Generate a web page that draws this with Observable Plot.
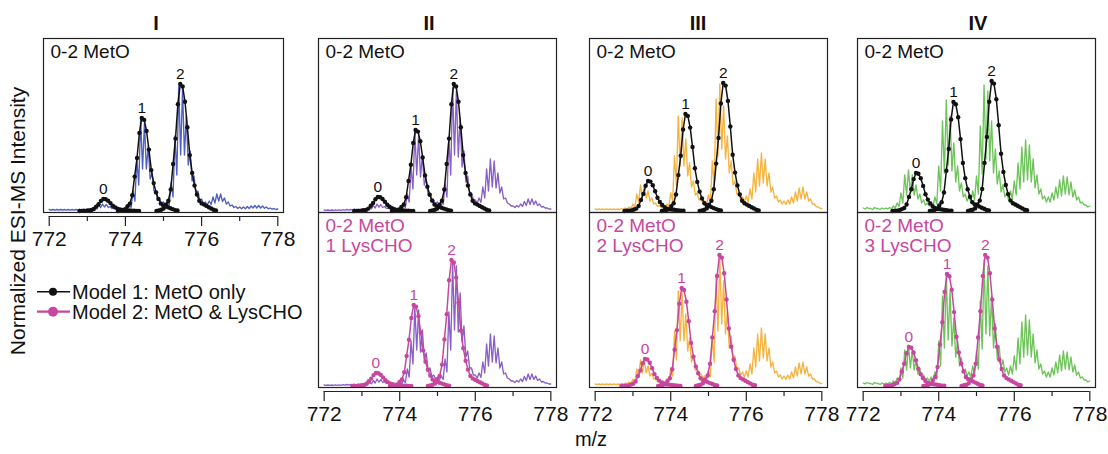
<!DOCTYPE html>
<html><head><meta charset="utf-8">
<script src="https://cdn.jsdelivr.net/npm/d3@7"></script>
<script src="https://cdn.jsdelivr.net/npm/@observablehq/plot@0.6"></script>
<style>
body{margin:0;background:#fff;font-family:"Liberation Sans",Arial,Helvetica,sans-serif;}
#fig{position:relative;width:1108px;height:454px;overflow:hidden;background:#fff;}
.t{position:absolute;white-space:nowrap;color:#111;}
</style></head><body><div id="fig"></div>
<script>
// ---------- text ----------
const panelTitles = ["I", "II", "III", "IV"];
const peakLabels = ["0", "1", "2"];
const topLabel = "0-2 MetO";
const bottomLabels = ["0-2 MetO\n1 LysCHO", "0-2 MetO\n2 LysCHO", "0-2 MetO\n3 LysCHO"];
const legendLabels = ["Model 1: MetO only", "Model 2: MetO & LysCHO"];
const yTitle = "Normalized ESI-MS Intensity";
const xTitle = "m/z";
const mzMajor = [772, 774, 776, 778];
const mzMinor = [773, 775, 777];
const tickLabels = ["772", "774", "776", "778"];

// ---------- experimental spectra: isotope-peak tops (hi) at 772.0 + 0.1 i and valleys (lo) halfway ----------
const specStart = 772.0, specStep = 0.1;
const specI_hi = [1.5,1.5,1.5,1.5,1.5,1.5,1.5,1.5,1.5,2, 2,2.5,3,6,7,6.5,4.5,3,2.5,2.5, 3,6,20,52,92,88,65,38,20,12, 9,10,28,75,125,122,95,60,35,20, 12,9,10,14,17,17,13,9,6,4.5, 4,4,4.5,5,5.5,5.5,5,4,3,2.5, 2];
const specI_lo = [0.8,0.8,0.8,0.8,0.8,0.8,0.8,0.8,1,1.2, 1.3,1.6,2,3.5,4,3.5,2.5,1.8,1.5,1.5, 2,3.5,10,26,42,42,32,20,11,7, 6,6,14,36,56,56,46,30,18,11, 7,6,6.5,8,10,9.5,7,5,3.5,2.5, 2.2,2.2,2.5,3,3,3,2.7,2.2,1.8,1.5];
const specII_hi = [1,1,1,1.2,1.2,1.3,1.5,1.5,1.8,2, 2,2.5,3.5,5.5,7,6.5,4.5,3,2.5,2.5, 3,6,17,45,79,76,56,33,18,11, 9,10,27,74,123,120,93,60,35,18, 11,13,24,42,52,50,38,24,13,7, 5,5.5,7,9.5,12,12,10,7,4.5,3, 2];
const specII_lo = [0.6,0.6,0.6,0.7,0.7,0.8,0.9,0.9,1,1.2, 1.3,1.6,2.2,3,3.8,3.5,2.6,1.9,1.6,1.6, 2,3.5,9,22,36,34,26,16,9,7, 6,6.5,14,36,56,54,44,29,18,11, 8,8.5,13,20,24,23,18,12,8,5, 3.5,4,4.5,5.5,6.5,6.5,5.5,4,3,2];
const specIII_hi = [2,2,2,2,2,2,2,2.5,3,4, 7,17,26,26,20,13,8,5.5,5,7, 18,55,95,93,72,48,30,18,12,10, 16,50,112,127,105,75,50,30,18,14, 15,22,38,52,58,52,38,24,15,11, 10,11,14,19,23,24,19,12,7,4, 2.5];
const specIII_lo = [1.3,1.3,1.3,1.3,1.3,1.3,1.4,1.6,2,2.6, 4,9,13,13,10,7,4.5,3.5,3.5,4.5, 10,26,45,45,35,24,16,11,8,7, 9,24,55,62,52,38,26,17,11,9, 9,12,19,25,28,25,19,13,9,7, 6.5,7,8,10,12,12,10,7,4.5,2.7];
const specIV_hi = [3,3.5,2.5,3.5,2.5,3,3,3.5,5,8, 18,36,41,36,26,17,11,8,9,14, 45,90,111,95,68,45,28,17,14,20, 35,85,126,120,90,62,40,26,18,20, 30,48,64,71,66,52,36,22,15,14, 18,24,31,35,34,29,21,14,9,6, 5];
const specIV_lo = [2,2.5,1.5,2.5,1.5,2,2,2.2,3,4.5, 8,16,18,16,12,8,6,5,5,7, 20,38,46,40,29,20,14,10,9,11, 17,37,52,50,38,27,19,14,11,12, 16,22,29,31,29,23,17,12,9,9, 11,13,15,17,16,14,11,8,6,4];

// ---------- model fits: points every 0.0625 m/z, starting 10 steps before each peak centre ----------
const modelStep = 0.0625, modelOffset = -10;
const centersI = [773.42, 774.43, 775.44];
const modelI = [
  [0,0.1,0.1,0.2,0.6,1,2,4.4,6.8,10.1,12,11.8,10.3,7.9,5.3,3.6,2.4,1.6,1,0.7,0.6,0.5,0.4,0.2,0.1,0.1],
  [0,0.5,0.9,1.9,4.7,7.4,15.8,34.4,53,78.1,93,91.1,80,61.4,40.9,27.9,18.6,12.1,7.4,5.6,4.7,3.7,2.8,1.9,0.9,0.5],
  [0,0.6,1.3,2.5,6.4,10.2,21.6,47,72.4,106.7,127,124.5,109.2,83.8,55.9,38.1,25.4,16.5,10.2,7.6,6.4,5.1,3.8,2.5,1.3,0.6]];
const centersII_top = [773.42, 774.42, 775.43];
const modelII_top = [
  [0,0.1,0.1,0.3,0.7,1.1,2.4,5.2,8,11.8,14,13.7,12,9.2,6.2,4.2,2.8,1.8,1.1,0.8,0.7,0.6,0.4,0.3,0.1,0.1],
  [0,0.4,0.8,1.6,4.1,6.5,13.8,30,46.2,68,81,79.4,69.7,53.5,35.6,24.3,16.2,10.5,6.5,4.9,4.1,3.2,2.4,1.6,0.8,0.4],
  [0,0.6,1.3,2.5,6.4,10.2,21.6,47,72.4,106.7,127,124.5,109.2,83.8,55.9,38.1,25.4,16.5,10.2,7.6,6.4,5.1,3.8,2.5,1.3,0.6]];
const centersII_bot = [773.37, 774.37, 775.37];
const modelII_bot = [
  [0,0.1,0.1,0.3,0.7,1,2.2,4.8,7.4,10.9,13,12.7,11.2,8.6,5.7,3.9,2.6,1.7,1,0.8,0.7,0.5,0.4,0.3,0.1,0.1],
  [0,0.4,0.8,1.6,4.1,6.5,13.8,30,46.2,68,81,79.4,69.7,53.5,35.6,24.3,16.2,10.5,6.5,4.9,4.1,3.2,2.4,1.6,0.8,0.4],
  [0,0.6,1.3,2.5,6.3,10.1,21.4,46.6,71.8,105.8,126,123.5,108.4,83.2,55.4,37.8,25.2,16.4,10.1,7.6,6.3,5,3.8,2.5,1.3,0.6]];
const centersIII_top = [773.40, 774.39, 775.39];
const modelIII_top = [
  [0,0.2,0.3,0.6,1.5,2.4,5.1,11.1,17.1,25.2,30,29.4,25.8,19.8,13.2,9,6,3.9,2.4,1.8,1.5,1.2,0.9,0.6,0.3,0.2],
  [0,0.5,1,1.9,4.9,7.8,16.5,35.9,55.3,81.5,97,95.1,83.4,64,42.7,29.1,19.4,12.6,7.8,5.8,4.9,3.9,2.9,1.9,1,0.5],
  [0,0.6,1.3,2.6,6.4,10.2,21.8,47.4,73,107.5,128,125.4,110.1,84.5,56.3,38.4,25.6,16.6,10.2,7.7,6.4,5.1,3.8,2.6,1.3,0.6]];
const centersIII_bot = [773.32, 774.29, 775.29];
const modelIII_bot = [
  [0,0.1,0.3,0.5,1.4,2.2,4.6,10,15.4,22.7,27,26.5,23.2,17.8,11.9,8.1,5.4,3.5,2.2,1.6,1.4,1.1,0.8,0.5,0.3,0.1],
  [0,0.5,1,2,4.9,7.8,16.7,36.3,55.9,82.3,98,96,84.3,64.7,43.1,29.4,19.6,12.7,7.8,5.9,4.9,3.9,2.9,2,1,0.5],
  [0,0.7,1.3,2.6,6.6,10.5,22.3,48.5,74.7,110,131,128.4,112.7,86.5,57.6,39.3,26.2,17,10.5,7.9,6.6,5.2,3.9,2.6,1.3,0.7]];
const centersIV_top = [773.40, 774.39, 775.40];
const modelIV_top = [
  [0,0.2,0.4,0.8,1.9,3,6.5,14.1,21.7,31.9,38,37.2,32.7,25.1,16.7,11.4,7.6,4.9,3,2.3,1.9,1.5,1.1,0.8,0.4,0.2],
  [0,0.5,1.1,2.2,5.5,8.7,18.5,40.3,62.1,91.6,109,106.8,93.7,71.9,48,32.7,21.8,14.2,8.7,6.5,5.5,4.4,3.3,2.2,1.1,0.5],
  [0,0.7,1.3,2.6,6.5,10.4,22.1,48.1,74.1,109.2,130,127.4,111.8,85.8,57.2,39,26,16.9,10.4,7.8,6.5,5.2,3.9,2.6,1.3,0.7]];
const centersIV_bot = [773.21, 774.22, 775.23];
const modelIV_bot = [
  [0,0.2,0.4,0.8,2,3.1,6.6,14.4,22.2,32.8,39,38.2,33.5,25.7,17.2,11.7,7.8,5.1,3.1,2.3,2,1.6,1.2,0.8,0.4,0.2],
  [0,0.6,1.1,2.2,5.6,9,19,41.4,63.8,94.1,112,109.8,96.3,73.9,49.3,33.6,22.4,14.6,9,6.7,5.6,4.5,3.4,2.2,1.1,0.6],
  [0,0.7,1.3,2.6,6.6,10.5,22.3,48.5,74.7,110,131,128.4,112.7,86.5,57.6,39.3,26.2,17,10.5,7.9,6.6,5.2,3.9,2.6,1.3,0.7]];

// ---------- styling / layout ----------
const FONT = '"Liberation Sans", Arial, Helvetica, sans-serif';
const COL = {blue: "#4f60c0", purple: "#8a5fc8", orange: "#f6b340", green: "#6ec45a",
             black: "#111111", magenta: "#c8479e", frame: "#222222"};
const xDomain = [771.85, 778.15];
const cells = [
  {L: 43,  T: 38,  W: 240, H: 174, axis: true,  hi: specI_hi,   lo: specI_lo,   col: COL.blue,   centers: centersI,        model: modelI,        mcol: COL.black,   label: topLabel},
  {L: 318, T: 38,  W: 238, H: 174, axis: false, hi: specII_hi,  lo: specII_lo,  col: COL.purple, centers: centersII_top,   model: modelII_top,   mcol: COL.black,   label: topLabel},
  {L: 318, T: 212, W: 238, H: 175, axis: true,  hi: specII_hi,  lo: specII_lo,  col: COL.purple, centers: centersII_bot,   model: modelII_bot,   mcol: COL.magenta, label: bottomLabels[0]},
  {L: 589, T: 38,  W: 238, H: 174, axis: false, hi: specIII_hi, lo: specIII_lo, col: COL.orange, centers: centersIII_top,  model: modelIII_top,  mcol: COL.black,   label: topLabel},
  {L: 589, T: 212, W: 238, H: 175, axis: true,  hi: specIII_hi, lo: specIII_lo, col: COL.orange, centers: centersIII_bot,  model: modelIII_bot,  mcol: COL.magenta, label: bottomLabels[1]},
  {L: 857, T: 38,  W: 238, H: 174, axis: false, hi: specIV_hi,  lo: specIV_lo,  col: COL.green,  centers: centersIV_top,   model: modelIV_top,   mcol: COL.black,   label: topLabel},
  {L: 857, T: 212, W: 238, H: 175, axis: true,  hi: specIV_hi,  lo: specIV_lo,  col: COL.green,  centers: centersIV_bot,   model: modelIV_bot,   mcol: COL.magenta, label: bottomLabels[2]}
];
const titleX = [156, 429, 698, 978];

const fig = document.getElementById("fig");

function drawCell(c) {
  const m = {t: 2, l: 2, r: 2, b: c.axis ? 48 : 2};
  const yMin = -1.5;
  const spec = [];
  c.hi.forEach((v, i) => {
    const x = specStart + i * specStep;
    spec.push({x, y: v});
    if (c.lo[i] !== undefined) spec.push({x: x + specStep / 2, y: c.lo[i]});
  });
  const pts = [];
  c.model.forEach((vals, s) => vals.forEach((v, j) =>
    pts.push({x: c.centers[s] + (j + modelOffset) * modelStep, y: v, s})));
  const peaks = c.model.map((vals, s) => ({x: c.centers[s], y: d3.max(vals), t: peakLabels[s]}));
  const marks = [
    Plot.line(spec, {x: "x", y: "y", stroke: c.col, strokeWidth: 1.35}),
    Plot.line(pts, {x: "x", y: "y", z: "s", stroke: c.mcol, strokeWidth: 1.5}),
    Plot.dot(pts, {x: "x", y: "y", r: 2.2, fill: c.mcol, stroke: null}),
    Plot.text(peaks, {x: "x", y: "y", text: "t", dy: -9.5, fill: c.mcol, fontSize: 15.5}),
    Plot.text([c.label], {text: d => d, frameAnchor: "top-left", textAnchor: "start", lineAnchor: "top",
                          dx: 7, dy: 5, fill: c.mcol, fontSize: 19, lineHeight: 1.05}),
    Plot.frame({stroke: COL.frame, strokeWidth: 1.2})
  ];
  if (c.axis) {
    marks.push(
      Plot.ruleY([yMin], {x1: mzMajor[0], x2: mzMajor[mzMajor.length - 1], dy: 4, stroke: COL.frame, strokeWidth: 1.2}),
      Plot.axisX(mzMajor, {tickSize: 10, dy: 4, tickPadding: 5, fontSize: 21, stroke: COL.frame, strokeWidth: 1.2,
                           tickFormat: d => tickLabels[mzMajor.indexOf(d)], label: null}),
      Plot.axisX(mzMinor, {tickSize: 5, dy: 4, stroke: COL.frame, strokeWidth: 1.2, tickFormat: () => "", label: null})
    );
  }
  const xOpts = {domain: xDomain};
  if (!c.axis) xOpts.axis = null;
  const svg = Plot.plot({
    width: c.W + m.l + m.r, height: c.H + m.t + m.b,
    marginTop: m.t, marginLeft: m.l, marginRight: m.r, marginBottom: m.b,
    x: xOpts,
    y: {domain: [yMin, yMin + c.H], axis: null},
    style: {fontFamily: FONT, background: "transparent", overflow: "visible", color: "#111"},
    marks
  });
  svg.style.position = "absolute";
  svg.style.left = (c.L - m.l) + "px";
  svg.style.top = (c.T - m.t) + "px";
  fig.appendChild(svg);
}
cells.forEach(drawCell);

// panel titles
panelTitles.forEach((t, i) => {
  const d = document.createElement("div");
  d.className = "t";
  d.textContent = t;
  d.style.cssText += `left:${titleX[i] - 40}px;top:12px;width:80px;text-align:center;font-weight:bold;font-size:20px;`;
  fig.appendChild(d);
});
// y title
{
  const d = document.createElement("div");
  d.className = "t";
  d.textContent = yTitle;
  d.style.cssText += `left:${18 - 200}px;top:${221 - 12}px;width:400px;height:24px;line-height:24px;text-align:center;font-size:21px;transform:rotate(-90deg);`;
  fig.appendChild(d);
}
// x title
{
  const d = document.createElement("div");
  d.className = "t";
  d.textContent = xTitle;
  d.style.cssText += `left:${591 - 40}px;top:428px;width:80px;text-align:center;font-size:20px;`;
  fig.appendChild(d);
}
// legend
{
  const svg = d3.create("svg").attr("width", 320).attr("height", 46)
    .style("position", "absolute").style("left", "30px").style("top", "280px").style("font-family", FONT);
  const rows = [{c: COL.black, w: 1.5, r: 4}, {c: COL.magenta, w: 2.2, r: 5}];
  rows.forEach((row, i) => {
    const y = 11.7 + i * 20;
    svg.append("line").attr("x1", 7).attr("x2", 40).attr("y1", y).attr("y2", y).attr("stroke", row.c).attr("stroke-width", row.w);
    svg.append("circle").attr("cx", 23).attr("cy", y).attr("r", row.r).attr("fill", row.c);
    svg.append("text").attr("x", 42).attr("y", y).attr("dy", "0.36em").attr("font-size", 20).attr("fill", "#111").text(legendLabels[i]);
  });
  fig.appendChild(svg.node());
}
</script></body></html>
